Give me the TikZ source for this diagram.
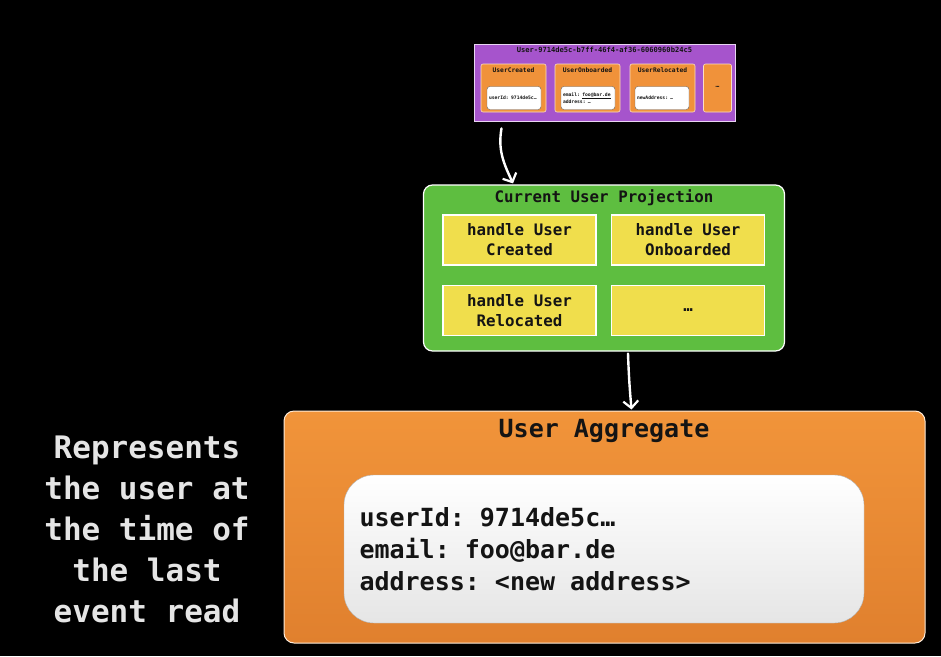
\documentclass[tikz,border=0pt]{standalone}
\usepackage{fontspec}
\setmonofont{DejaVu Sans Mono}
\usepackage{xcolor}
\usetikzlibrary{arrows.meta}
\definecolor{evpurple}{RGB}{166,84,204}
\definecolor{evorange}{RGB}{240,146,58}
\definecolor{projgreen}{RGB}{94,190,64}
\definecolor{handleyellow}{RGB}{240,222,76}
\definecolor{aggtop}{RGB}{241,148,58}
\definecolor{aggbottom}{RGB}{224,128,46}
\definecolor{ink}{RGB}{20,20,20}
\tikzset{box/.style={draw=white, rounded corners=4pt, inner sep=0pt},
 eventbox/.style={box, fill=evorange, draw=white!70!evorange, line width=0.6pt,
   rounded corners=2pt, minimum width=65pt, minimum height=48pt},
 eventname/.style={inner sep=0pt, text=ink, font=\ttfamily\bfseries\fontsize{6.3}{7}\selectfont},
 databox/.style={box, fill=white, draw=black!60, line width=0.4pt, rounded corners=3pt,
   minimum height=23pt, text width=50pt, inner sep=2pt, align=left, text=ink,
   font=\ttfamily\bfseries\fontsize{4.7}{5.6}\selectfont},
 handler/.style={draw=white, fill=handleyellow, line width=1.5pt, minimum width=153pt,
   minimum height=50pt, align=center, text=ink, font=\ttfamily\bfseries\fontsize{15.8}{20}\selectfont},
 flow/.style={draw=white, line width=2.4pt, line cap=round,
   -{Straight Barb[length=7pt,width=15pt,line width=2.2pt]}},
 }

\begin{document}
\begin{tikzpicture}[x=1pt,y=-1pt]
        \fill[black] (0,0) rectangle (941,656);

        % event stream
        \node (stream) at (604.5,82.5) [box, fill=evpurple, draw=white!75!evpurple, line width=0.8pt,
          rounded corners=0pt, minimum width=261pt, minimum height=77pt] {};
        \node (streamid) at (604.5,50) [inner sep=0pt, text=ink, font=\ttfamily\bfseries\fontsize{7.1}{8}\selectfont]
          {User-9714de5c-b7ff-46f4-af36-6060960b24c5};

        \node (created) at (513.5,88) [eventbox] {};
        \node at (513.5,70) [eventname] {UserCreated};
        \node (createddata) at (514,98) [databox] {userId: 9714de5c…};

        \node (onboarded) at (587.5,88) [eventbox] {};
        \node at (587.5,70) [eventname] {UserOnboarded};
        \node (onboardeddata) at (588,98) [databox] {email: \underline{foo@bar.de}\\address: …};

        \node (relocated) at (662.5,88) [eventbox] {};
        \node at (662.5,70) [eventname] {UserRelocated};
        \node (relocateddata) at (662,98) [databox] {newAddress: …};

        \node (more) at (717.5,88) [eventbox, minimum width=28pt] {};
        \node at (717.5,87) [eventname] {…};

        % projection
        \node (proj) at (604,268) [box, fill=projgreen, line width=1.2pt, rounded corners=9pt,
          minimum width=361pt, minimum height=166pt] {};
        \node (projname) at (604,198) [inner sep=0pt, text=ink, font=\ttfamily\bfseries\fontsize{15.8}{17}\selectfont]
          {Current User Projection};

        \node (hcreated) at (519.5,240) [handler] {handle User\\Created};
        \node (honboarded) at (688,240) [handler] {handle User\\Onboarded};
        \node (hrelocated) at (519.5,310.5) [handler] {handle User\\Relocated};
        \node (hmore) at (688,310.5) [handler] {…};

        % aggregate
        \node (agg) at (604.5,527) [box, top color=aggtop, bottom color=aggbottom, draw=white!85!orange,
          line width=1pt, rounded corners=10pt, minimum width=641pt, minimum height=232pt] {};
        \node (aggname) at (604,431) [inner sep=0pt, text=ink, font=\ttfamily\bfseries\fontsize{25}{27}\selectfont]
          {User Aggregate};
        \node (state) at (604,549) [box, top color=white, bottom color=black!10, draw=black!30,
          rounded corners=30pt, minimum width=520pt, minimum height=148pt] {};
        \node (statetext) at (356,549) [anchor=west, align=left, text=ink,
          font=\ttfamily\bfseries\fontsize{25}{32}\selectfont]
          {userId: 9714de5c…\\email: foo@bar.de\\address: <new address>};

        \node (note) at (147,529) [align=center, text=white!90!black,
          font=\ttfamily\bfseries\fontsize{31}{41}\selectfont]
          {Represents\\the user at\\the time of\\the last\\event read};

        \draw[flow] ([xshift=-103pt,yshift=-7pt]stream.south) to[out=-100,in=115] ([xshift=-91pt,yshift=1pt]proj.north);
        \draw[flow] ([xshift=24pt,yshift=-2pt]proj.south) to[out=-88,in=95] ([xshift=27pt,yshift=1pt]agg.north);
    \end{tikzpicture}
\end{document}
